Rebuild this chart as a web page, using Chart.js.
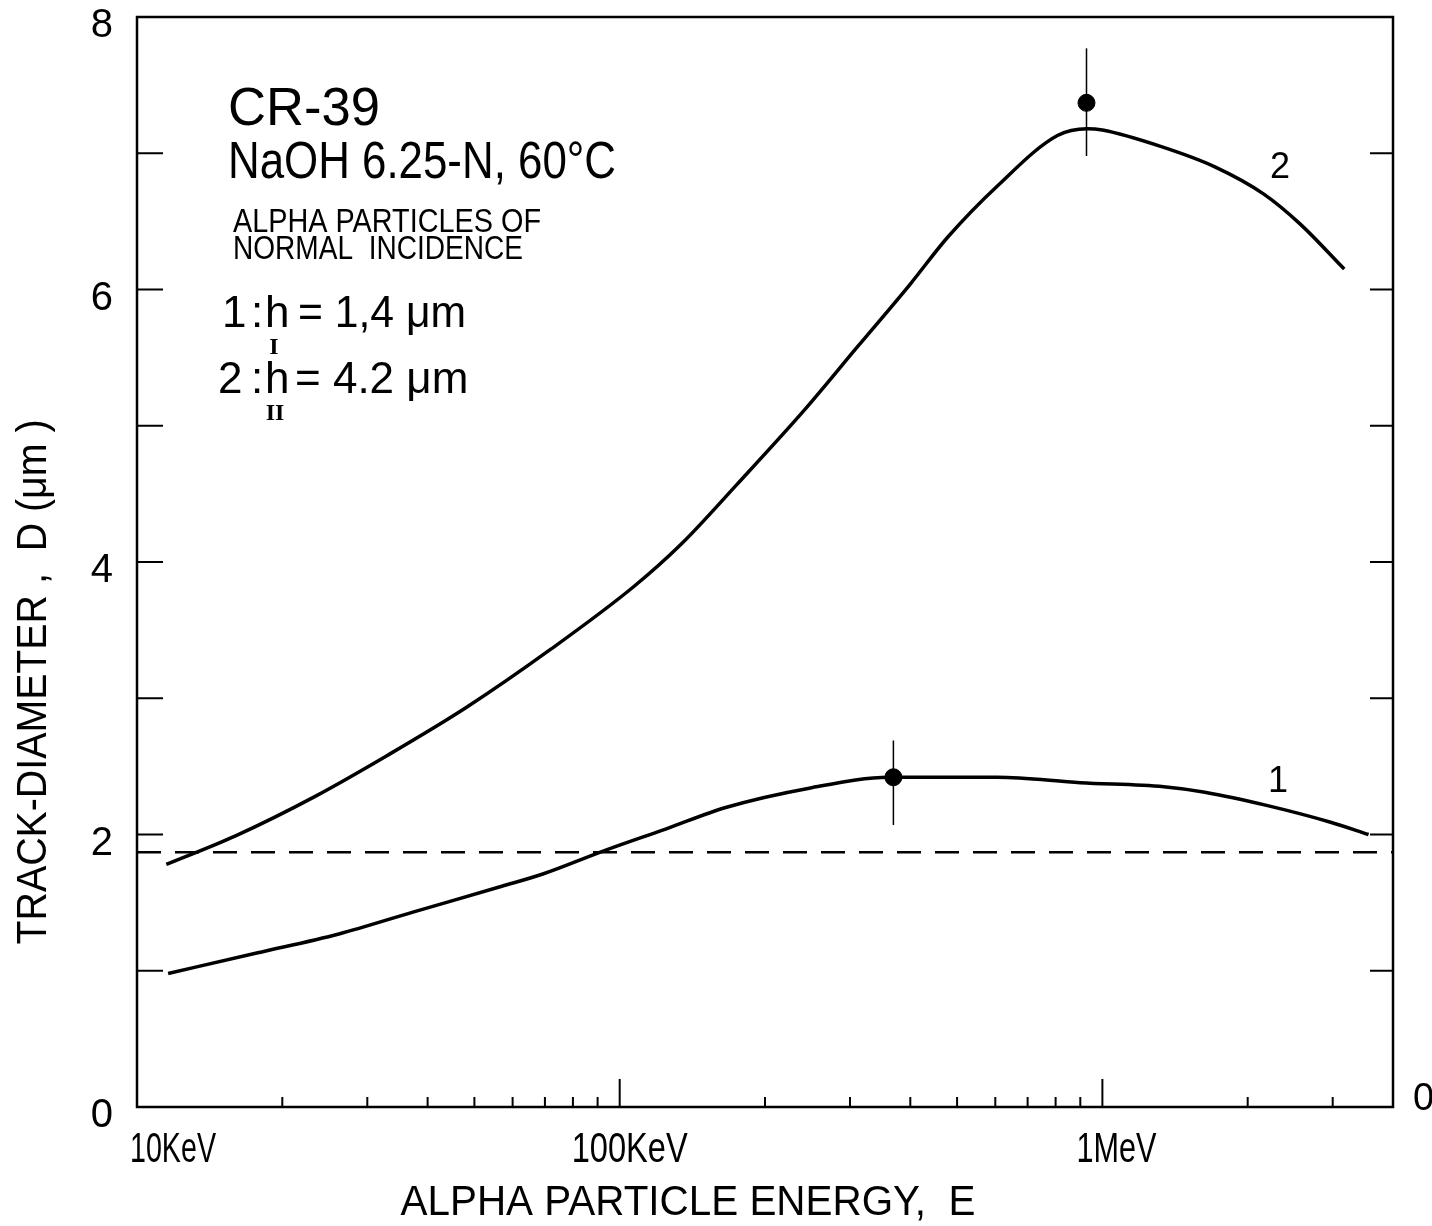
<!DOCTYPE html>
<html>
<head>
<meta charset="utf-8">
<script src="https://cdn.jsdelivr.net/npm/chart.js@4.4.0/dist/chart.umd.min.js"></script>
<style>
  html, body { margin: 0; padding: 0; background: #fff; }
  #wrap { width: 1432px; height: 1226px; }
</style>
</head>
<body>
<div id="wrap"><canvas id="chart" width="1432" height="1226"></canvas></div>
<script>
// track diameter vs alpha energy (CR-39)
const curve1E = [11.6, 17.7, 26.2, 37.3, 57, 69.3, 92.7, 124.5, 166.5, 247, 362, 606, 900, 1340, 1630, 2210, 2970, 3560];
const curve1D = [0.98, 1.13, 1.27, 1.43, 1.62, 1.71, 1.88, 2.04, 2.20, 2.34, 2.42, 2.42, 2.38, 2.35, 2.31, 2.21, 2.09, 2.00];

const curve2E = [11.5, 16, 23.4, 33, 48, 72, 107, 134, 175, 242, 311, 400, 477, 606, 807, 930, 1000, 1320, 1710, 2160, 2570, 3170];
const curve2D = [1.78, 1.99, 2.28, 2.58, 2.93, 3.36, 3.82, 4.13, 4.57, 5.12, 5.58, 6.04, 6.38, 6.76, 7.13, 7.18, 7.17, 7.05, 6.90, 6.70, 6.48, 6.15];

const dashE = [10, 4000];
const dashD = [1.87, 1.87];

const dotE    = [369, 927];
const dotD    = [2.42, 7.37];
const dotLow  = [2.07, 6.98];
const dotHigh = [2.69, 7.77];

const xMinorTicks = [20, 30, 40, 50, 60, 70, 80, 90, 200, 300, 400, 500, 600, 700, 800, 900, 2000, 3000];
const xMajorTicks = [100, 1000];
const xLabelValues = [10, 100, 1000];
const xLabelTexts = ['10KeV', '100KeV', '1MeV'];
const yTickValues = [1, 2, 3, 4, 5, 6, 7];
const yLabelValues = [0, 2, 4, 6, 8];

const FONT = '"Liberation Sans", Arial, sans-serif';
const SERIF = '"Liberation Serif", serif';

function pts(xs, ys) { return xs.map((x, i) => ({ x, y: ys[i] })); }

function txt(ctx, s, x, y, size, align, maxW, family, weight) {
  ctx.font = `${weight || 'normal'} ${size}px ${family || FONT}`;
  ctx.textAlign = align || 'left';
  ctx.textBaseline = 'alphabetic';
  if (maxW) ctx.fillText(s, x, y, maxW); else ctx.fillText(s, x, y);
}

const overlay = {
  id: 'overlay',
  afterDraw(chart) {
    const ctx = chart.ctx, a = chart.chartArea;
    const xs = chart.scales.x, ys = chart.scales.y;
    ctx.save();
    ctx.strokeStyle = '#000';
    ctx.fillStyle = '#000';

    // frame
    ctx.lineWidth = 2.5;
    ctx.strokeRect(a.left, a.top, a.right - a.left, a.bottom - a.top);

    // inner ticks
    ctx.lineWidth = 2;
    ctx.beginPath();
    yTickValues.forEach(v => {
      const py = ys.getPixelForValue(v);
      ctx.moveTo(a.left, py); ctx.lineTo(a.left + 26, py);
      ctx.moveTo(a.right, py); ctx.lineTo(a.right - 23, py);
    });
    xMinorTicks.forEach(v => {
      const px = xs.getPixelForValue(v);
      ctx.moveTo(px, a.bottom); ctx.lineTo(px, a.bottom - 10);
    });
    xMajorTicks.forEach(v => {
      const px = xs.getPixelForValue(v);
      ctx.moveTo(px, a.bottom); ctx.lineTo(px, a.bottom - 28);
    });
    ctx.stroke();

    // tick labels
    yLabelValues.forEach(v => {
      txt(ctx, String(v), 113, ys.getPixelForValue(v) + 20, 40, 'right');
    });
    txt(ctx, '0', 1413, ys.getPixelForValue(0) + 3, 38, 'left');
    const xOff = [36, 10, 14];
    const xW = [86, 116, 80];
    xLabelValues.forEach((v, i) => {
      txt(ctx, xLabelTexts[i], xs.getPixelForValue(v) + xOff[i], 1162, 42, 'center', xW[i]);
    });

    // axis titles
    txt(ctx, 'ALPHA PARTICLE ENERGY,  E', 688, 1215, 43, 'center', 575);
    ctx.save();
    ctx.translate(46, 682);
    ctx.rotate(-Math.PI / 2);
    txt(ctx, 'TRACK-DIAMETER ,  D (\u03BCm )', 0, 0, 42, 'center', 525);
    ctx.restore();

    // annotation block
    txt(ctx, 'CR-39', 228, 125, 54, 'left', 152);
    txt(ctx, 'NaOH 6.25-N, 60\u00B0C', 228, 178, 52, 'left', 388);
    txt(ctx, 'ALPHA PARTICLES OF', 233, 232, 34, 'left', 308);
    txt(ctx, 'NORMAL  INCIDENCE', 233, 259, 34, 'left', 290);

    txt(ctx, '1', 222, 327, 44, 'left');
    txt(ctx, ':', 251, 327, 44, 'left');
    txt(ctx, 'h', 265, 327, 44, 'left', 26);
    txt(ctx, 'I', 274, 354, 24, 'center', null, SERIF, 'bold');
    txt(ctx, '= 1,4 \u03BCm', 298, 327, 44, 'left', 168);

    txt(ctx, '2', 218, 393, 44, 'left');
    txt(ctx, ':', 251, 393, 44, 'left');
    txt(ctx, 'h', 265, 393, 44, 'left', 26);
    txt(ctx, 'II', 275, 420, 24, 'center', null, SERIF, 'bold');
    txt(ctx, '= 4.2 \u03BCm', 295, 393, 44, 'left', 174);

    // curve labels
    txt(ctx, '2', 1280, 178, 36, 'center');
    txt(ctx, '1', 1278, 792, 36, 'center');

    ctx.restore();
  }
};

const lineStyle = {
  borderColor: '#000', borderWidth: 3.5, pointRadius: 0,
  showLine: true, fill: false, cubicInterpolationMode: 'monotone'
};

new Chart(document.getElementById('chart'), {
  type: 'scatter',
  data: {
    datasets: [
      { ...lineStyle, label: '1', data: pts(curve1E, curve1D) },
      { ...lineStyle, label: '2', data: pts(curve2E, curve2D) },
      { label: 'dash', data: pts(dashE, dashD), showLine: true, pointRadius: 0,
        borderColor: '#000', borderWidth: 2.5, borderDash: [24, 14] },
      ...dotE.map((e, i) => ({
        label: 'err' + i, data: [{ x: e, y: dotLow[i] }, { x: e, y: dotHigh[i] }],
        showLine: true, pointRadius: 0, borderColor: '#000', borderWidth: 1.5
      })),
      { label: 'dots', data: pts(dotE, dotD), pointRadius: 8.5,
        pointBackgroundColor: '#000', pointBorderColor: '#000', showLine: false }
    ]
  },
  options: {
    responsive: false, animation: false, devicePixelRatio: 1,
    layout: { padding: { left: 137, top: 17, right: 39, bottom: 119 } },
    plugins: { legend: { display: false }, tooltip: { enabled: false } },
    scales: {
      x: { type: 'logarithmic', min: 10, max: 4000, display: false },
      y: { type: 'linear', min: 0, max: 8, display: false }
    }
  },
  plugins: [overlay]
});
</script>
</body>
</html>
